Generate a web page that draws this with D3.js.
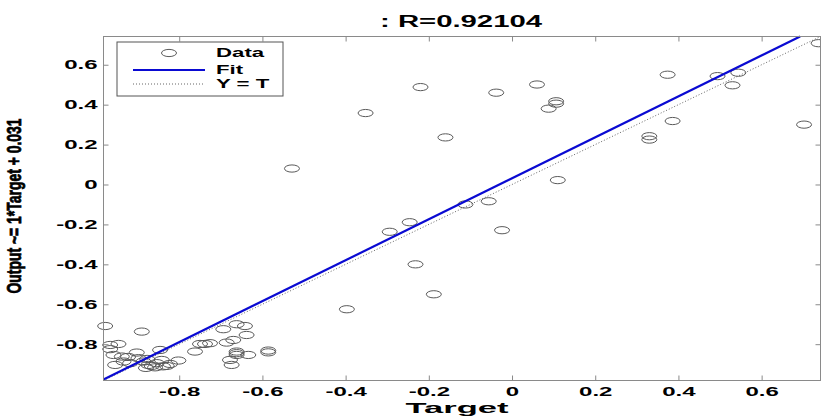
<!DOCTYPE html>
<meta charset="utf-8">
<script src="https://d3js.org/d3.v7.min.js"></script>
<style>
  body { margin: 0; background: #fff; }
  text { font-family: "Liberation Sans", Arial, sans-serif; font-weight: bold; fill: #000; }
</style>
<body>
<div id="chart"></div>
<script>
// values
var limits = [-0.982, 0.7415];
var tickValues = [-0.8, -0.6, -0.4, -0.2, 0, 0.2, 0.4, 0.6];
var tickLabels = ["-0.8", "-0.6", "-0.4", "-0.2", "0", "0.2", "0.4", "0.6"];
var fitSlope = 1.026, fitIntercept = 0.031;
var rValue = "0.92104";

var targets = [-0.978, -0.890, -0.966, -0.946, -0.966, -0.958, -0.938, -0.902, -0.934, -0.954,
  -0.918, -0.898, -0.886, -0.874, -0.866, -0.854, -0.842, -0.846, -0.830, -0.802,
  -0.762, -0.738, -0.750, -0.726, -0.694, -0.662, -0.642, -0.638, -0.686, -0.670,
  -0.662, -0.662, -0.662, -0.634, -0.678, -0.674, -0.586, -0.586, -0.880, -0.858,
  -0.839, -0.822, -0.923, -0.877,
  -0.529, -0.352, -0.220, -0.160, -0.038, 0.060, 0.088, 0.106, 0.106, -0.112,
  -0.056, -0.246, -0.294, -0.024, -0.232, -0.188, -0.397, 0.374, 0.494, 0.544,
  0.530, 0.386, 0.330, 0.330, 0.702, 0.737, 0.110];
var outputs = [-0.709, -0.737, -0.804, -0.799, -0.825, -0.854, -0.862, -0.842, -0.887, -0.904,
  -0.895, -0.870, -0.887, -0.904, -0.909, -0.895, -0.879, -0.829, -0.909, -0.882,
  -0.837, -0.799, -0.799, -0.795, -0.725, -0.700, -0.709, -0.754, -0.792, -0.779,
  -0.837, -0.845, -0.854, -0.854, -0.879, -0.904, -0.832, -0.841, -0.919, -0.916,
  -0.911, -0.899, -0.864, -0.874,
  0.080, 0.358, 0.488, 0.236, 0.460, 0.501, 0.380, 0.417, 0.405, -0.100,
  -0.084, -0.189, -0.237, -0.229, -0.400, -0.550, -0.625, 0.550, 0.543, 0.560,
  0.497, 0.318, 0.242, 0.225, 0.300, 0.708, 0.022];
var legendLabels = ["Data", "Fit", "Y = T"];

var W = 821, H = 420;
var svg = d3.select("#chart").append("svg")
  .attr("width", W).attr("height", H);

var x = d3.scaleLinear().domain(limits).range([103.5, 820.5]);
var y = d3.scaleLinear().domain(limits).range([380.5, 36.5]);

// stretch text horizontally like the picture
function stretch(k) {
  return function() {
    var w = this.getComputedTextLength();
    this.setAttribute("textLength", w * k);
    this.setAttribute("lengthAdjust", "spacingAndGlyphs");
  };
}

// data points
svg.append("g").selectAll("ellipse")
  .data(targets.map(function(t, i) { return [t, outputs[i]]; }))
  .enter().append("ellipse")
    .attr("cx", function(d) { return x(d[0]); })
    .attr("cy", function(d) { return y(d[1]); })
    .attr("rx", 7.5).attr("ry", 3.6)
    .attr("fill", "none")
    .attr("stroke", "#5a5a5a")
    .attr("stroke-width", 1);

// Y = T
svg.append("line")
  .attr("x1", x(limits[0])).attr("y1", y(limits[0]))
  .attr("x2", x(limits[1])).attr("y2", y(limits[1]))
  .attr("stroke", "#555").attr("stroke-width", 0.9)
  .attr("stroke-dasharray", "1,2");

// fit line
var fx0 = limits[0], fx1 = (limits[1] - fitIntercept) / fitSlope;
svg.append("line")
  .attr("x1", x(fx0)).attr("y1", y(fitSlope * fx0 + fitIntercept))
  .attr("x2", x(fx1)).attr("y2", y(fitSlope * fx1 + fitIntercept))
  .attr("stroke", "#0a0ad2").attr("stroke-width", 2.2);

// box
svg.append("rect")
  .attr("x", x(limits[0])).attr("y", y(limits[1]))
  .attr("width", x(limits[1]) - x(limits[0]))
  .attr("height", y(limits[0]) - y(limits[1]))
  .attr("fill", "none").attr("stroke", "#8a8a8a").attr("stroke-width", 1);

function styleAxis(g) {
  g.select(".domain").remove();
  g.selectAll(".tick line").attr("stroke", "#8a8a8a");
  g.selectAll(".tick text").attr("font-size", 12).attr("fill", "#000")
    .style("font-family", "'Liberation Sans', Arial, sans-serif")
    .style("font-weight", "bold");
}

svg.append("g")
  .attr("transform", "translate(0," + y(limits[0]) + ")")
  .call(d3.axisBottom(x).tickValues(tickValues)
    .tickFormat(function(d, i) { return tickLabels[i]; })
    .tickSizeInner(-5).tickSizeOuter(0).tickPadding(7))
  .call(styleAxis)
  .selectAll(".tick text").each(stretch(2.0));

svg.append("g")
  .attr("transform", "translate(" + x(limits[0]) + ",0)")
  .call(d3.axisLeft(y).tickValues(tickValues)
    .tickFormat(function(d, i) { return tickLabels[i]; })
    .tickSizeInner(-5).tickSizeOuter(0).tickPadding(6))
  .call(styleAxis)
  .selectAll(".tick text").each(stretch(2.0));

svg.append("g")
  .attr("transform", "translate(0," + y(limits[1]) + ")")
  .call(d3.axisTop(x).tickValues(tickValues).tickFormat("")
    .tickSizeInner(-5).tickSizeOuter(0))
  .call(styleAxis);

svg.append("g")
  .attr("transform", "translate(" + x(limits[1]) + ",0)")
  .call(d3.axisRight(y).tickValues(tickValues).tickFormat("")
    .tickSizeInner(-5).tickSizeOuter(0))
  .call(styleAxis);

// title and labels
svg.append("text")
  .attr("x", 461).attr("y", 27)
  .attr("text-anchor", "middle").attr("font-size", 16)
  .attr("textLength", 162).attr("lengthAdjust", "spacingAndGlyphs")
  .text(": R=" + rValue);

svg.append("text")
  .attr("x", 457).attr("y", 413)
  .attr("text-anchor", "middle").attr("font-size", 15)
  .attr("textLength", 103).attr("lengthAdjust", "spacingAndGlyphs")
  .text("Target");

svg.append("text")
  .attr("transform", "translate(21,206) scale(1.9,1) rotate(-90)")
  .attr("text-anchor", "middle").attr("font-size", 11)
  .attr("textLength", 175).attr("lengthAdjust", "spacingAndGlyphs")
  .style("stroke", "#000").style("stroke-width", 0.4)
  .text("Output ~= 1*Target + 0.031");

// legend
var rowY = [53, 70, 84];
var lg = svg.append("g");
lg.append("rect")
  .attr("x", 117).attr("y", 42).attr("width", 166).attr("height", 54)
  .attr("fill", "#fff").attr("stroke", "#555").attr("stroke-width", 1);
lg.append("ellipse")
  .attr("cx", 169).attr("cy", rowY[0]).attr("rx", 7.5).attr("ry", 3.6)
  .attr("fill", "none").attr("stroke", "#5a5a5a");
lg.append("line")
  .attr("x1", 133).attr("x2", 205).attr("y1", rowY[1]).attr("y2", rowY[1])
  .attr("stroke", "#0a0ad2").attr("stroke-width", 2);
lg.append("line")
  .attr("x1", 133).attr("x2", 205).attr("y1", rowY[2]).attr("y2", rowY[2])
  .attr("stroke", "#555").attr("stroke-width", 0.9).attr("stroke-dasharray", "1,2");
lg.selectAll(".lt")
  .data(legendLabels)
  .enter().append("text")
    .attr("x", 216)
    .attr("y", function(d, i) { return rowY[i] + 4.3; })
    .attr("font-size", 12)
    .text(function(d) { return d; })
    .each(stretch(1.85));
</script>
</body>
